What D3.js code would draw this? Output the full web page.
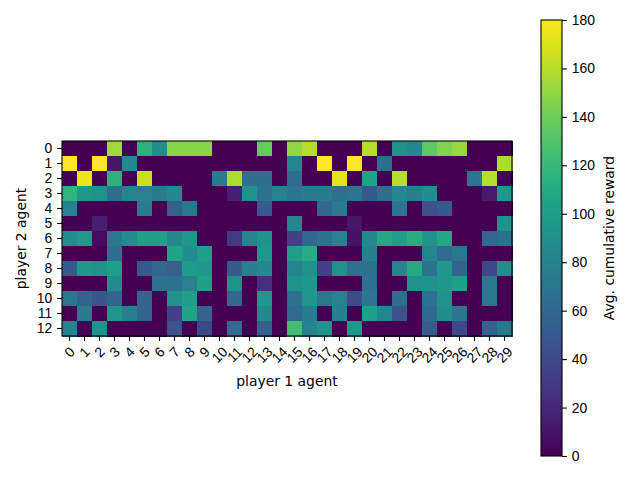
<!DOCTYPE html>
<html>
<head>
<meta charset="utf-8">
<script src="https://cdn.jsdelivr.net/npm/d3@7"></script>
<style>
  body { margin: 0; background: #fff; }
  svg { display: block; font-family: "DejaVu Sans", sans-serif; }
</style>
</head>
<body>
<div id="chart"></div>
<script>
// agents on each axis
const player1Agents = d3.range(30).map(String);
const player2Agents = d3.range(13).map(String);
const colorTicks = [0, 20, 40, 60, 80, 100, 120, 140, 160, 180];

// avg. cumulative reward, one row per player 2 agent
const rewards = [
  [0,0,0,155,0,115,88,148,148,148,0,0,0,138,0,150,160,0,0,0,160,0,92,85,135,145,152,0,0,0],
  [180,0,180,10,85,0,0,0,0,0,0,0,0,0,0,82,0,180,0,180,0,65,0,0,0,0,0,0,0,158],
  [0,175,0,115,0,165,0,0,0,0,75,158,65,65,0,63,0,0,172,0,105,0,160,0,0,0,0,70,160,0],
  [118,95,92,65,82,80,75,85,0,0,0,15,90,68,80,70,75,75,68,70,50,65,85,78,88,0,0,0,12,95],
  [80,0,0,0,0,75,0,55,72,0,0,0,0,50,0,0,0,60,75,0,0,0,70,0,45,50,0,0,0,0],
  [0,0,15,0,0,0,0,0,0,0,0,0,0,0,0,82,0,0,0,10,0,0,0,0,0,0,0,0,0,92],
  [88,97,5,72,88,100,102,85,95,0,0,30,82,93,0,35,60,68,80,8,85,108,100,112,92,108,0,0,60,68],
  [0,0,0,65,0,0,0,105,88,100,0,0,0,95,0,100,112,0,0,0,78,0,0,0,82,62,72,0,0,0],
  [50,95,92,100,0,50,60,55,98,95,0,50,78,85,0,82,90,35,90,68,68,0,82,110,68,95,58,0,38,88],
  [0,0,0,88,0,0,68,68,80,102,0,92,0,25,0,92,95,0,0,0,68,0,0,92,92,95,100,0,72,0],
  [72,58,48,58,0,58,0,92,100,0,0,60,0,95,0,68,95,72,80,42,70,0,65,0,68,92,0,0,72,0],
  [0,75,0,95,78,58,0,35,105,58,0,0,0,85,0,62,75,0,78,0,102,82,45,0,60,88,70,0,0,0],
  [80,0,92,0,0,0,0,45,0,40,0,62,0,55,0,125,80,90,0,95,0,0,0,0,52,0,40,0,55,72]
];

(function () {
    const width = 640, height = 480;
    const fontSize = 13.9;
    const tickLen = 4.9, tickPad = 4.9;

    // heatmap area
    const plot = { left: 62, top: 141, width: 450, height: 195 };
    // colorbar area
    const cbar = { left: 541, top: 20, width: 21, height: 436 };

    const svg = d3.select("#chart").append("svg")
        .attr("width", width)
        .attr("height", height)
        .style("font-size", fontSize + "px");

    const x = d3.scaleBand().domain(player1Agents).range([plot.left, plot.left + plot.width]);
    const y = d3.scaleBand().domain(player2Agents).range([plot.top, plot.top + plot.height]);
    const color = d3.scaleSequential(d3.interpolateViridis).domain([0, 180]);

    // cells
    const cells = rewards.flatMap((row, i) => row.map((v, j) => ({ row: player2Agents[i], col: player1Agents[j], v })));
    svg.append("g")
        .attr("shape-rendering", "crispEdges")
        .selectAll("rect")
        .data(cells)
        .join("rect")
        .attr("x", d => x(d.col))
        .attr("y", d => y(d.row))
        .attr("width", x.bandwidth() + 0.5)
        .attr("height", y.bandwidth() + 0.5)
        .attr("fill", d => color(d.v));

    // frame
    svg.append("rect")
        .attr("x", plot.left).attr("y", plot.top)
        .attr("width", plot.width).attr("height", plot.height)
        .attr("fill", "none").attr("stroke", "#000").attr("stroke-width", 1.1);

    // x axis, labels rotated 45 deg
    const xAxis = svg.append("g")
        .attr("transform", `translate(0,${plot.top + plot.height})`)
        .call(d3.axisBottom(x).tickSize(tickLen).tickPadding(tickPad));
    xAxis.select(".domain").remove();
    xAxis.selectAll("line").attr("stroke-width", 1.1);
    xAxis.selectAll("text")
        .attr("font-size", fontSize).attr("font-family", null).attr("fill", "#000")
        .attr("dy", null)
        .each(function () {
            const w = this.getComputedTextLength();
            const h = (w + fontSize * 0.8) * Math.SQRT1_2;
            d3.select(this)
                .attr("y", null)
                .attr("text-anchor", "middle")
                .attr("dominant-baseline", "central")
                .attr("transform", `translate(0,${tickLen + tickPad - 0.5 + h / 2}) rotate(-45)`);
        });

    // y axis
    const yAxis = svg.append("g")
        .attr("transform", `translate(${plot.left},0)`)
        .call(d3.axisLeft(y).tickSize(tickLen).tickPadding(tickPad));
    yAxis.select(".domain").remove();
    yAxis.selectAll("line").attr("stroke-width", 1.1);
    yAxis.selectAll("text")
        .attr("font-size", fontSize).attr("font-family", null).attr("fill", "#000");

    svg.append("text")
        .attr("x", plot.left + plot.width / 2)
        .attr("y", 386)
        .attr("text-anchor", "middle")
        .text("player 1 agent");

    svg.append("text")
        .attr("transform", `translate(26,${plot.top + plot.height / 2}) rotate(-90)`)
        .attr("text-anchor", "middle")
        .text("player 2 agent");

    // colorbar gradient
    const defs = svg.append("defs");
    const grad = defs.append("linearGradient")
        .attr("id", "cbar-grad")
        .attr("x1", 0).attr("y1", 1).attr("x2", 0).attr("y2", 0);
    d3.range(0, 1.0001, 0.05).forEach(t => {
        grad.append("stop")
            .attr("offset", t)
            .attr("stop-color", d3.interpolateViridis(t));
    });

    svg.append("rect")
        .attr("x", cbar.left).attr("y", cbar.top)
        .attr("width", cbar.width).attr("height", cbar.height)
        .attr("fill", "url(#cbar-grad)")
        .attr("stroke", "#000").attr("stroke-width", 1.1);

    const cy = d3.scaleLinear().domain([0, 180]).range([cbar.top + cbar.height, cbar.top]);
    const cAxis = svg.append("g")
        .attr("transform", `translate(${cbar.left + cbar.width},0)`)
        .call(d3.axisRight(cy).tickValues(colorTicks).tickSize(tickLen).tickPadding(tickPad));
    cAxis.select(".domain").remove();
    cAxis.selectAll("line").attr("stroke-width", 1.1);
    cAxis.selectAll("text")
        .attr("font-size", fontSize).attr("font-family", null).attr("fill", "#000");

    svg.append("text")
        .attr("transform", `translate(614,${cbar.top + cbar.height / 2}) rotate(-90)`)
        .attr("text-anchor", "middle")
        .text("Avg. cumulative reward");

    return svg.node();
})();
</script>
</body>
</html>
